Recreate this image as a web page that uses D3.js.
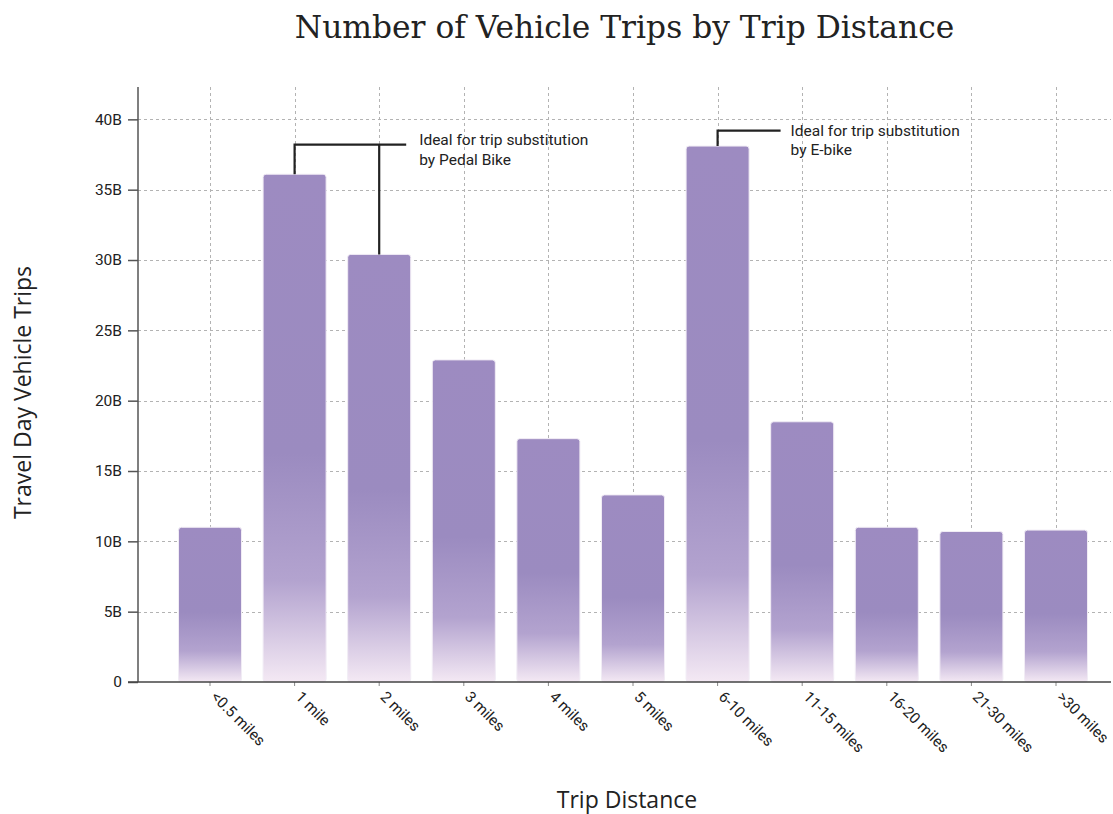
<!DOCTYPE html>
<html><head><meta charset="utf-8">
<script src="https://cdn.jsdelivr.net/npm/d3@7"></script>
<style>
html,body{margin:0;padding:0;background:#fff;}
svg{display:block;}
</style></head>
<body>
<svg id="chart" width="1113" height="814"></svg>
<script>
const categories = ["<0.5 miles","1 mile","2 miles","3 miles","4 miles","5 miles","6-10 miles","11-15 miles","16-20 miles","21-30 miles",">30 miles"];
const trips = [11.0, 36.1, 30.4, 22.9, 17.3, 13.3, 38.1, 18.5, 11.0, 10.7, 10.8];
const yTicks = [0,5,10,15,20,25,30,35,40];
const yTickLabels = ["0","5B","10B","15B","20B","25B","30B","35B","40B"];
const annotations = [
  {bars:["1 mile","2 miles"], lines:["Ideal for trip substitution","by Pedal Bike"]},
  {bars:["6-10 miles"], lines:["Ideal for trip substitution","by E-bike"]}
];

const svg = d3.select("#chart");
const labelFont = "Roboto,sans-serif";
const margin = {left:138, right:2, top:87, bottom:132};
const W = 1113, H = 814;
const axisX0 = margin.left, axisX1 = W - margin.right;
const y0 = H - margin.bottom;

const x = d3.scaleBand().domain(categories).range([167.7, 1098.3]).paddingInner(0.255).paddingOuter(0.1275);
const y = d3.scaleLinear().domain([0, 42.3]).range([y0, margin.top]);

// gradient
const defs = svg.append("defs");
const grad = defs.append("linearGradient").attr("id","barGrad").attr("x1",0).attr("y1",0).attr("x2",0).attr("y2",1);
grad.append("stop").attr("offset","0%").attr("stop-color","#9d8bc1");
grad.append("stop").attr("offset","55%").attr("stop-color","#9b8bc0");
grad.append("stop").attr("offset","80%").attr("stop-color","#b3a3cf");
grad.append("stop").attr("offset","100%").attr("stop-color","#f4e9f4");

// grid
const grid = svg.append("g").attr("stroke","#b3b3b3").attr("stroke-width",1).attr("stroke-dasharray","3,3");
yTicks.forEach(t => {
  if (t === 0) return;
  grid.append("line").attr("x1",axisX0).attr("x2",axisX1).attr("y1",Math.round(y(t))+0.5).attr("y2",Math.round(y(t))+0.5);
});
categories.forEach(c => {
  const cx = Math.round(x(c)+x.bandwidth()/2)+0.5;
  grid.append("line").attr("x1",cx).attr("x2",cx).attr("y1",margin.top).attr("y2",y0);
});

// bars
svg.append("g").selectAll("rect").data(categories).join("rect")
  .attr("x", d => x(d))
  .attr("width", x.bandwidth())
  .attr("y", (d,i) => y(trips[i]))
  .attr("height", (d,i) => y0 - y(trips[i]))
  .attr("rx", 3).attr("ry", 3)
  .attr("fill","url(#barGrad)")
  .attr("stroke","#f1ecf5").attr("stroke-width",1);

// y axis
const yAxis = d3.axisLeft(y).tickValues(yTicks).tickFormat((d,i)=>yTickLabels[i]).tickSize(10).tickPadding(6);
const gy = svg.append("g").attr("transform",`translate(${axisX0},0)`).call(yAxis);
gy.select(".domain").remove();
gy.selectAll(".tick line").attr("stroke","#555").attr("stroke-width",1.5);
gy.selectAll(".tick text").attr("font-family",labelFont).attr("font-size",15.5).attr("fill","#222");
svg.append("line").attr("x1",axisX0).attr("x2",axisX0).attr("y1",margin.top).attr("y2",y0).attr("stroke","#555").attr("stroke-width",1.5);

// x axis
const xAxis = d3.axisBottom(x).tickSize(4).tickPadding(8);
const gx = svg.append("g").attr("transform",`translate(0,${y0})`).call(xAxis);
gx.select(".domain").remove();
gx.selectAll(".tick line").attr("stroke","#888");
gx.selectAll(".tick text")
  .attr("font-family",labelFont).attr("font-size",15.2).attr("fill","#222")
  .attr("text-anchor","start").attr("dy","0.35em")
  .attr("transform","translate(4,12) rotate(45)").attr("y",0).attr("x",0);
svg.append("line").attr("x1",axisX0-10).attr("x2",axisX1).attr("y1",y0).attr("y2",y0).attr("stroke","#444").attr("stroke-width",1.5);

// annotations
const ann = svg.append("g").attr("fill","none").attr("stroke","#222").attr("stroke-width",2.2);
const cx = c => x(c) + x.bandwidth()/2;
const trip = c => trips[categories.indexOf(c)];
{
  const a = annotations[0];
  const yTop = y(38.2);
  ann.append("path").attr("d",
    `M${cx(a.bars[0])},${y(trip(a.bars[0]))}V${yTop}H${cx(a.bars[1])+27}M${cx(a.bars[1])},${yTop}V${y(trip(a.bars[1]))}`);
  const t = svg.append("text").attr("font-family",labelFont).attr("font-size",15.5).attr("fill","#222")
    .attr("x", cx(a.bars[1])+40).attr("y", yTop);
  a.lines.forEach((l,i)=>t.append("tspan").attr("x",cx(a.bars[1])+40).attr("dy", i===0?0:20).text(l));
}
{
  const a = annotations[1];
  const yTop = y(39.2);
  ann.append("path").attr("d", `M${cx(a.bars[0])},${y(trip(a.bars[0]))}V${yTop}H${cx(a.bars[0])+63}`);
  const t = svg.append("text").attr("font-family",labelFont).attr("font-size",15.5).attr("fill","#222")
    .attr("x", cx(a.bars[0])+73).attr("y", yTop+5);
  a.lines.forEach((l,i)=>t.append("tspan").attr("x",cx(a.bars[0])+73).attr("dy", i===0?0:19).text(l));
}

// title
svg.append("text").attr("x",(axisX0+axisX1)/2).attr("y",38).attr("text-anchor","middle")
  .attr("font-family","'DejaVu Serif',serif").attr("font-size",31.3).attr("fill","#222")
  .text("Number of Vehicle Trips by Trip Distance");

// axis titles
svg.append("text").attr("x",627).attr("y",808).attr("text-anchor","middle")
  .attr("font-family","'Open Sans',sans-serif").attr("font-size",23).attr("fill","#222")
  .text("Trip Distance");
svg.append("text").attr("transform",`translate(31,${(margin.top+y0)/2+8}) rotate(-90)`).attr("text-anchor","middle")
  .attr("font-family","'Open Sans',sans-serif").attr("font-size",23).attr("fill","#222")
  .text("Travel Day Vehicle Trips");
</script>
</body></html>
